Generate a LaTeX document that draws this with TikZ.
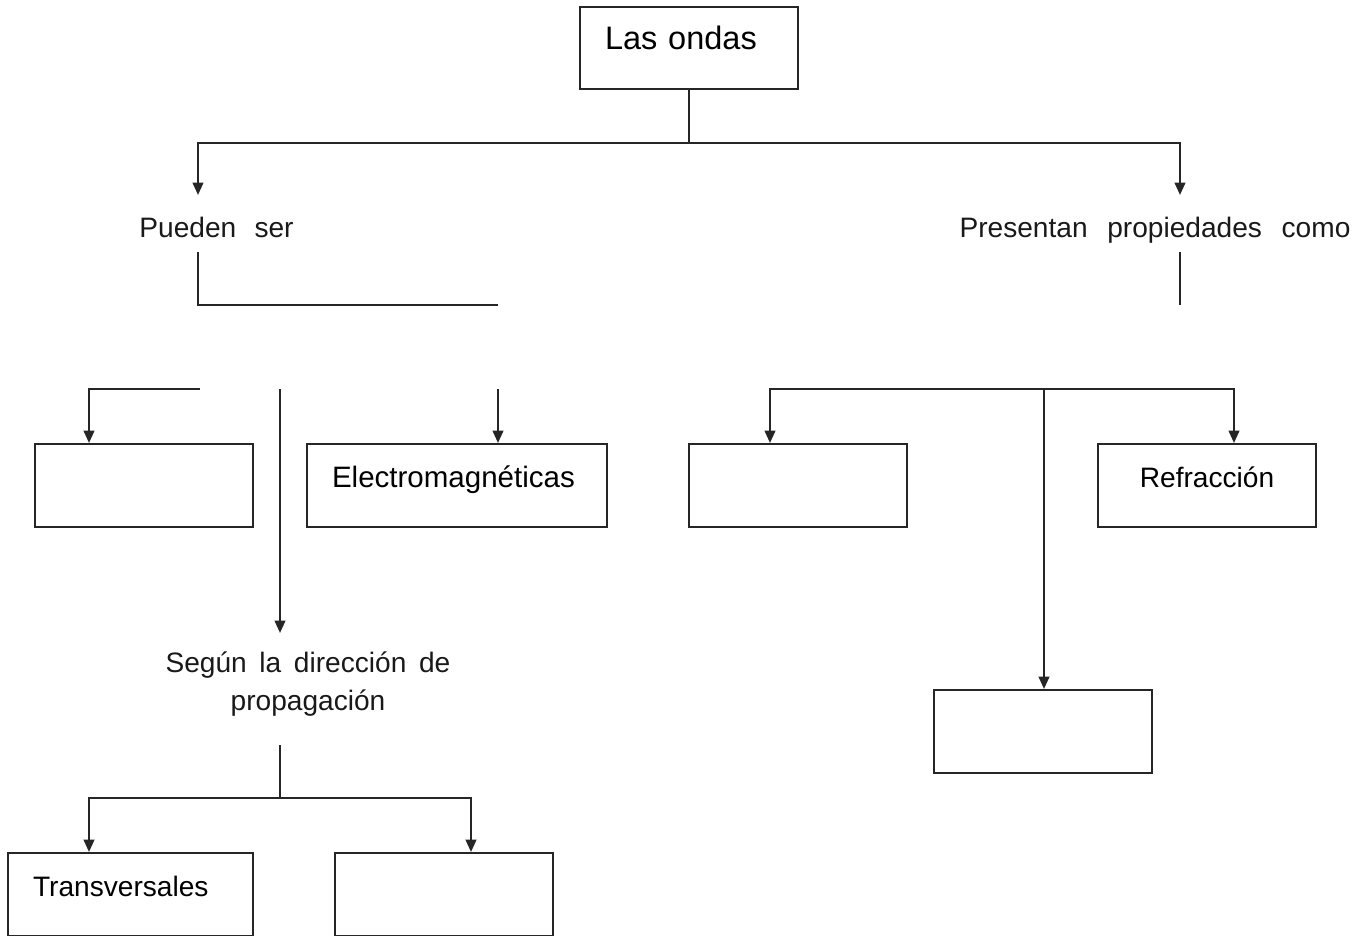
\documentclass[tikz,border=0pt]{standalone}
\usepackage{fontspec}
\setmainfont{Liberation Sans}
\usetikzlibrary{arrows.meta}
\usetikzlibrary{positioning}

\newcommand\tagfont{\fontsize{16}{22}\selectfont}
\tikzset{
  box/.style={draw=black!85, line width=1.25pt, inner xsep=0pt, inner ysep=0pt, anchor=north,
    minimum width=4.36cm, text height=0.86cm, text depth=0.80cm, font=\fontsize{16}{19}\selectfont},
  leftpad/.style={align=left, inner xsep=0.5cm, text width=#1},
  link/.style={draw=black!85, line width=1.25pt},
  tag/.style={inner sep=0pt, text=black!90},
}

\begin{document}
\begin{tikzpicture}[x=0.02cm, y=-0.02cm, >={Triangle[length=7pt, width=6pt]}]
\useasboundingbox (0,0) rectangle (1369,936);
% boxes
\node[box, leftpad=3.36cm, font=\fontsize{18.5}{22}\selectfont, text height=0.84cm, text depth=0.80cm] (ondas) at (689,6) {Las ondas};
\node[box] (tipo1) at (144,443) {};
\node[box, minimum width=6cm, leftpad=5cm, font=\fontsize{16.8}{19}\selectfont] (elec) at (457,443) {Electromagnéticas};
\node[box] (prop1) at (798,443) {};
\node[box] (refrac) at (1207,443) {Refracción};
\node[box] (prop3) at (1043,689) {};
\node[box, leftpad=3.9cm] (transv) at (130.5,852) {Transversales};
\node[box] (dir2) at (444,852) {};
% texts
\node[tag, anchor=base, font={\tagfont\spaceskip=0.65em\relax}] (pueden) at (216.5,237) {Pueden ser};
\node[tag, anchor=base, font={\tagfont\spaceskip=0.7em\relax}] (presentan) at (1155,237) {Presentan propiedades como};
\node[tag, align=center, font={\tagfont\spaceskip=0.45em\relax}] (segun) at (308,684) {Según la dirección de\\ propagación};
% top split
\coordinate (pd) at (198,195);
\coordinate (pr) at (1180,195);
\draw[link, ->] (ondas.south) -- ++(0,53) -| (pd);
\draw[link, ->] (ondas.south) ++(0,53) -| (pr);
% left branch
\coordinate (p1) at (198,252);
\coordinate (p2) at (498,305);
\draw[link] (p1) |- (p2);
\coordinate (q1) at (200,389);
\coordinate (q2) at (280,389);
\coordinate (q3) at (498,389);
\coordinate (sg) at (280,633);
\draw[link, ->] (q1) -| ([xshift=-1.1cm]tipo1.north);
\draw[link, ->] (q2) -- (sg);
\draw[link, ->] (q3) -- (q3 |- elec.north);
% under segun
\coordinate (s1) at (280,745);
\draw[link, ->] (s1) -- ++(0,53) -| ([xshift=-0.83cm]transv.north);
\draw[link, ->] (s1) ++(0,53) -| ([xshift=0.54cm]dir2.north);
% right branch
\coordinate (r1) at (1180,252);
\draw[link] (r1) -- ++(0,53);
\coordinate (r2) at (1044,389);
\draw[link, ->] (r2) -| ([xshift=-0.56cm]prop1.north);
\draw[link, ->] (r2) -| ([xshift=0.54cm]refrac.north);
\draw[link, ->] (r2) -- (r2 |- prop3.north);
\end{tikzpicture}
\end{document}
